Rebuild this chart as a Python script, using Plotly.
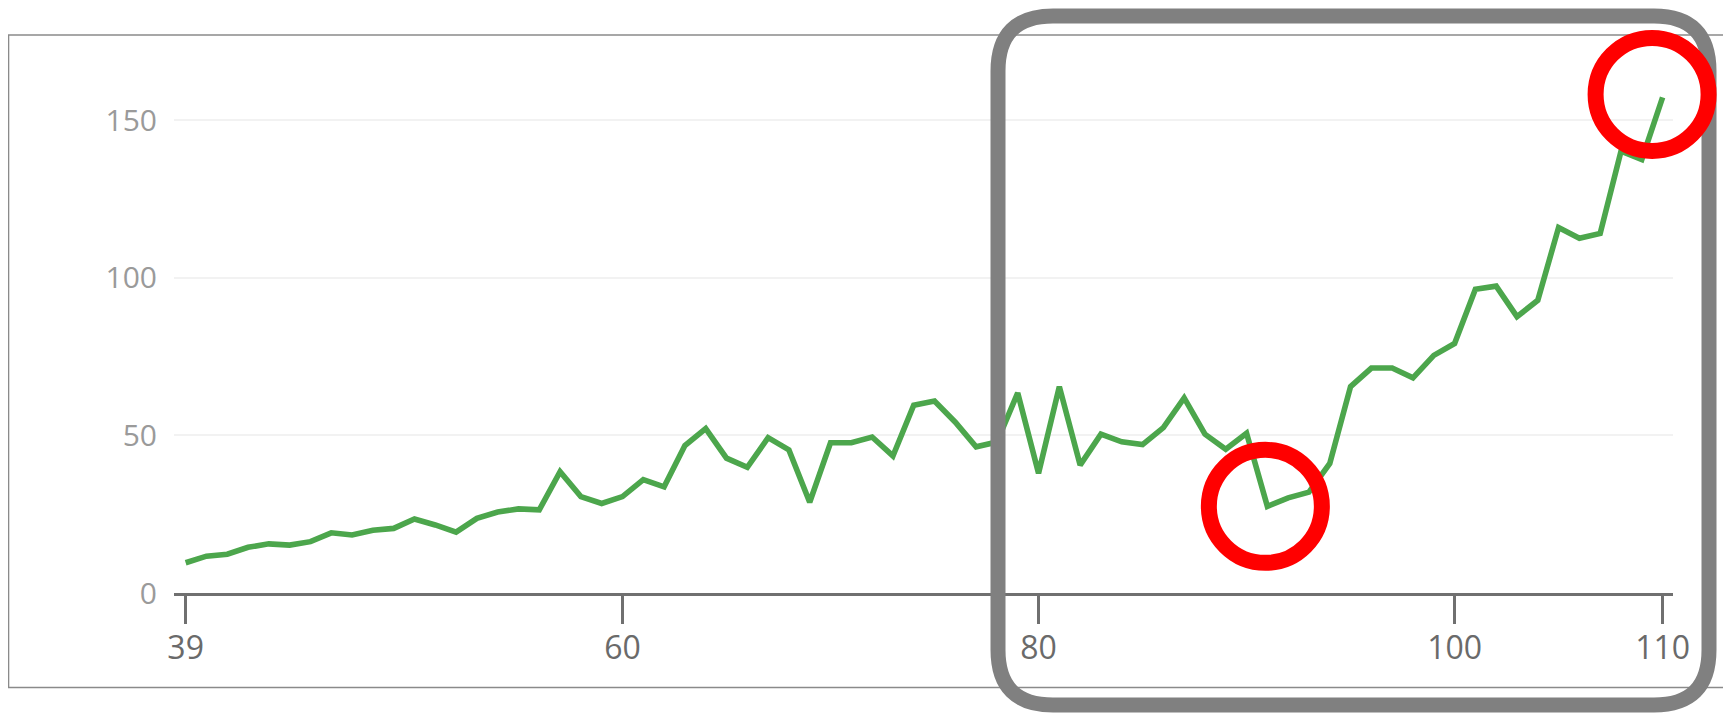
import plotly.graph_objects as go

# ---- data ----
x_values = list(range(39, 111))
y_values = [
    9.6, 11.7, 12.3, 14.5, 15.6, 15.2, 16.3, 19.1, 18.4, 19.9,
    20.5, 23.5, 21.6, 19.3, 23.7, 25.7, 26.7, 26.4, 38.5, 30.6,
    28.4, 30.6, 36.0, 33.7, 46.8, 52.2, 42.8, 39.9, 49.3, 45.4,
    28.8, 47.7, 47.7, 49.5, 43.5, 59.6, 60.9, 54.2, 46.4, 47.9,
    63.5, 38.0, 65.5, 40.6, 50.4, 48.0, 47.1, 52.5, 61.9, 50.4,
    45.6, 50.7, 27.5, 30.2, 32.0, 41.1, 65.5, 71.4, 71.4, 68.3,
    75.4, 79.2, 96.4, 97.4, 87.7, 92.9, 116.0, 112.6, 114.1, 140.2,
    137.6, 157.3,
]
x_tick_vals = [39, 60, 80, 100, 110]
y_tick_vals = [0, 50, 100, 150]
highlight_x = [91, 110]

# ---- layout geometry (pixels, page body has an 8px margin) ----
OFF = 8
W, H = 1731 - OFF, 717 - OFF
L = 174 - OFF
R = W - (1673 - OFF)
T = 35 - OFF
B = H - (593 - OFF)
PW, PH = W - L - R, H - T - B
X_RANGE = [38.44, 110.5]
Y_RANGE = [0, 177.1]


def px(xp):
    return (xp - OFF - L) / PW


def py(yp):
    return (H - B - (yp - OFF)) / PH


fig = go.Figure()
fig.add_trace(go.Scatter(
    x=x_values, y=y_values, mode="lines",
    line=dict(color="#4ca64c", width=5.6),
    hoverinfo="skip", showlegend=False,
))

shapes = []
# outer frame
shapes.append(dict(type="rect", xref="paper", yref="paper",
                   x0=px(8.5), x1=px(1760), y0=py(687.5), y1=py(35),
                   line=dict(color="#8a8a8a", width=1.6), fillcolor="rgba(0,0,0,0)",
                   layer="below"))

# gray rounded rectangle highlight
lx, rx, ty, by, rad = 998, 1709, 16, 705, 55
path = (
    f"M {px(lx + rad)},{py(ty)} "
    f"L {px(rx - rad)},{py(ty)} "
    f"Q {px(rx)},{py(ty)} {px(rx)},{py(ty + rad)} "
    f"L {px(rx)},{py(by - rad)} "
    f"Q {px(rx)},{py(by)} {px(rx - rad)},{py(by)} "
    f"L {px(lx + rad)},{py(by)} "
    f"Q {px(lx)},{py(by)} {px(lx)},{py(by - rad)} "
    f"L {px(lx)},{py(ty + rad)} "
    f"Q {px(lx)},{py(ty)} {px(lx + rad)},{py(ty)} Z"
)
shapes.append(dict(type="path", xref="paper", yref="paper", path=path,
                   line=dict(color="#808080", width=15), fillcolor="rgba(0,0,0,0)"))

# red circles around highlighted points (anchored on the data points)
offsets = {91: (-2, 0), 110: (-10.5, 3)}
r = 56.5
for hx in highlight_x:
    hy = y_values[x_values.index(hx)]
    ax = (hx - X_RANGE[0]) / (X_RANGE[1] - X_RANGE[0])
    ay = (hy - Y_RANGE[0]) / (Y_RANGE[1] - Y_RANGE[0])
    dx, dy = offsets[hx]
    shapes.append(dict(type="circle", xref="paper", yref="paper",
                       xsizemode="pixel", ysizemode="pixel",
                       xanchor=ax, yanchor=ay,
                       x0=dx - r, x1=dx + r, y0=dy - r, y1=dy + r,
                       line=dict(color="#ff0000", width=16),
                       fillcolor="rgba(0,0,0,0)"))

fig.update_layout(
    width=W, height=H,
    margin=dict(l=L, r=R, t=T, b=B, pad=0),
    paper_bgcolor="white", plot_bgcolor="white",
    font=dict(family="Open Sans", color="#666"),
    shapes=shapes,
    showlegend=False,
)
fig.update_xaxes(
    range=X_RANGE, tickmode="array", tickvals=x_tick_vals,
    ticktext=[str(v) for v in x_tick_vals],
    showgrid=False, zeroline=False,
    showline=True, linecolor="#707070", linewidth=2.5,
    ticks="outside", ticklen=28, tickwidth=2.5, tickcolor="#707070",
    tickfont=dict(size=32, color="#6a6a6a", family="Open Sans"),
    ticklabelstandoff=-3,
)
fig.update_yaxes(
    range=Y_RANGE, tickmode="array", tickvals=y_tick_vals,
    showgrid=True, gridcolor="#f2f2f2", gridwidth=2,
    zeroline=False, showline=False, ticks="",
    tickfont=dict(size=30, color="#9a9a9a", family="Open Sans"),
    ticklabelstandoff=16,
)

fig.write_html("out.html")
